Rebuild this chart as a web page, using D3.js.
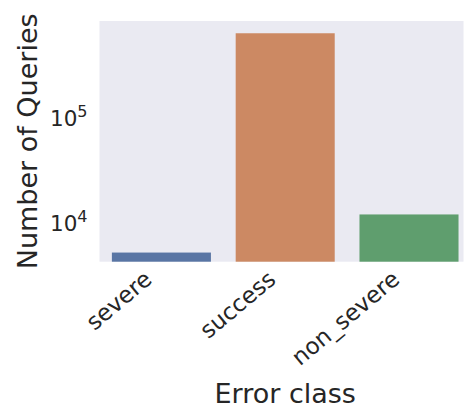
<!DOCTYPE html>
<html>
<head>
<meta charset="utf-8">
<script src="https://cdn.jsdelivr.net/npm/d3@7"></script>
<style>
  html, body { margin: 0; padding: 0; background: #ffffff; }
  svg { display: block; }
  text { font-family: "DejaVu Sans", sans-serif; fill: #262626; }
</style>
</head>
<body>
<svg id="chart" width="467" height="409"></svg>
<script>
// Query counts per error class (log scale)
const categories = ["severe", "success", "non_severe"];
const queryCounts = [4900, 600000, 11300];
const barColors = ["#5975a4", "#cc8963", "#5f9e6e"];
const yTickValues = [1e4, 1e5];
const yTickExponents = ["4", "5"];

const plot = { left: 99.5, right: 470.9, top: 21, bottom: 261.7 };

const svg = d3.select("#chart");

const x = d3.scaleBand()
  .domain(categories)
  .range([plot.left, plot.right])
  .paddingInner(0.2)
  .paddingOuter(0.1);

const y = d3.scaleLog()
  .domain([4010, 785000])
  .range([plot.bottom, plot.top]);

// axes background
svg.append("rect")
  .attr("x", plot.left)
  .attr("y", plot.top)
  .attr("width", 463.5 - plot.left)
  .attr("height", plot.bottom - plot.top)
  .attr("fill", "#eaeaf2");

// bars
svg.append("g")
  .selectAll("rect")
  .data(categories)
  .join("rect")
  .attr("x", d => x(d))
  .attr("width", x.bandwidth())
  .attr("y", (d, i) => y(queryCounts[i]))
  .attr("height", (d, i) => plot.bottom - y(queryCounts[i]))
  .attr("fill", (d, i) => barColors[i]);

// y axis: tick labels as 10 with a superscript exponent
const yAxis = d3.axisLeft(y).tickValues(yTickValues).tickSize(0).tickPadding(12).tickFormat(() => "");
const gy = svg.append("g").attr("transform", `translate(${plot.left},0)`).call(yAxis);
gy.select(".domain").remove();
gy.selectAll(".tick text").each(function (d, i) {
  const t = d3.select(this)
    .attr("font-size", 21.5)
    .attr("font-family", "DejaVu Sans, sans-serif")
    .attr("fill", "#262626")
    .attr("dy", "0.5em");
  t.append("tspan").text("10");
  t.append("tspan")
    .attr("font-size", 16)
    .attr("dy", "-0.55em")
    .text(yTickExponents[i]);
});

// x axis: rotated category labels
const xAxis = d3.axisBottom(x).tickSize(0).tickPadding(0);
const gx = svg.append("g").attr("transform", `translate(0,${plot.bottom})`).call(xAxis);
gx.select(".domain").remove();
gx.selectAll(".tick text")
  .attr("font-size", 23)
  .attr("font-family", "DejaVu Sans, sans-serif")
  .attr("fill", "#262626")
  .attr("text-anchor", "end")
  .attr("dy", null)
  .attr("y", null)
  .attr("transform", "translate(-8,20) rotate(-40)");

// axis titles
svg.append("text")
  .attr("x", (plot.left + plot.right) / 2)
  .attr("y", 403)
  .attr("text-anchor", "middle")
  .attr("font-size", 27)
  .text("Error class");

svg.append("text")
  .attr("transform", `translate(37,${(plot.top + plot.bottom) / 2}) rotate(-90)`)
  .attr("text-anchor", "middle")
  .attr("font-size", 27)
  .text("Number of Queries");
</script>
</body>
</html>
